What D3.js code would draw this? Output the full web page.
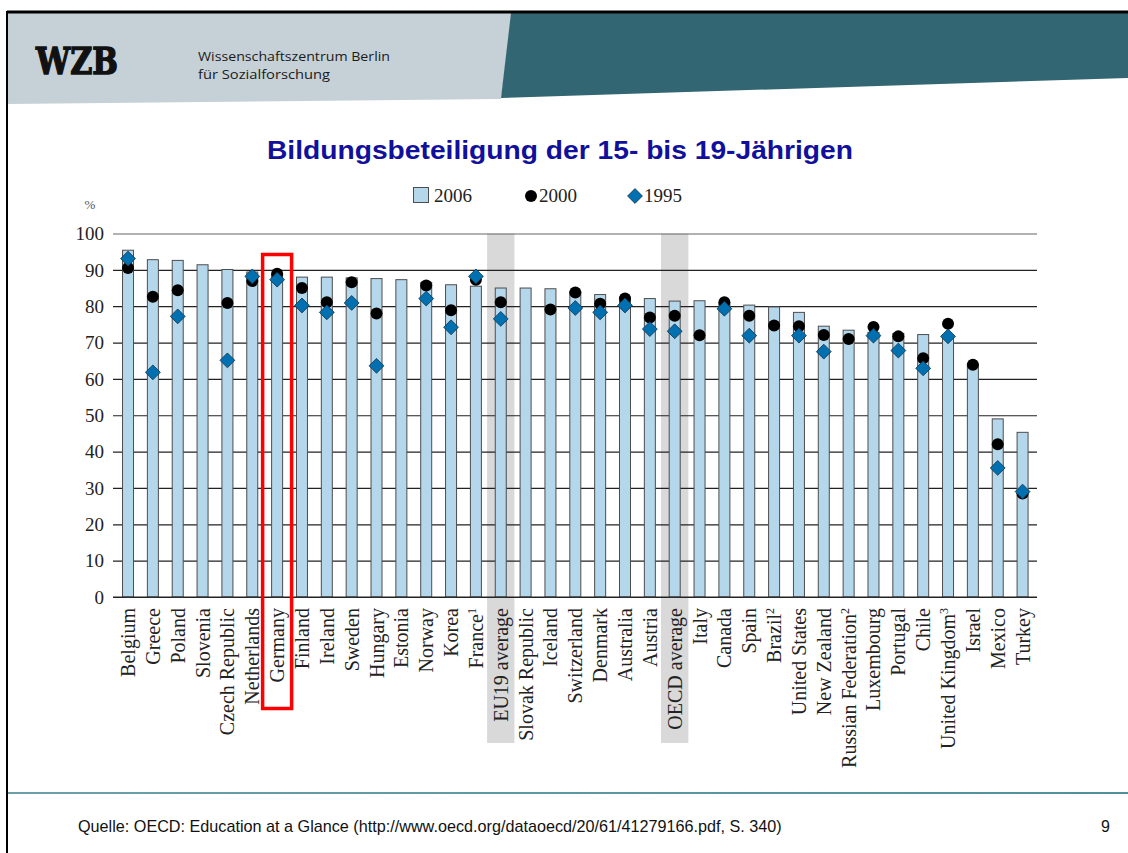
<!DOCTYPE html>
<html>
<head>
<meta charset="utf-8">
<script src="https://cdn.jsdelivr.net/npm/d3@7"></script>
<style>
  html, body { margin: 0; padding: 0; background: #fff; }
  svg { display: block; }
</style>
</head>
<body>
<div id="chart"></div>
<script>
// Bildungsbeteiligung der 15- bis 19-Jährigen (OECD EaG 2008, Tab. C2.1)

const COUNTRIES = [
  "Belgium", "Greece", "Poland", "Slovenia", "Czech Republic", "Netherlands",
  "Germany", "Finland", "Ireland", "Sweden", "Hungary", "Estonia", "Norway",
  "Korea", "France", "EU19 average", "Slovak Republic", "Iceland", "Switzerland",
  "Denmark", "Australia", "Austria", "OECD average", "Italy", "Canada", "Spain",
  "Brazil", "United States", "New Zealand", "Russian Federation", "Luxembourg",
  "Portugal", "Chile", "United Kingdom", "Israel", "Mexico", "Turkey"
];
// footnote marks shown as superscripts
const FOOTNOTES = { "France": "1", "Brazil": "2", "Russian Federation": "2", "United Kingdom": "3" };
const SHADED = ["EU19 average", "OECD average"];
const HIGHLIGHT = "Germany";

const V2006 = [95.4, 92.8, 92.6, 91.4, 90.1, 89.4, 88.8, 88.0, 88.0, 87.8, 87.6, 87.3, 86.5,
               85.9, 85.5, 85.0, 85.0, 84.8, 84.0, 83.2, 82.5, 82.1, 81.4, 81.5, 80.8, 80.3,
               79.8, 78.3, 74.5, 73.4, 72.8, 72.5, 72.2, 71.5, 64.0, 49.0, 45.3];
const V2000 = [90.5, 82.6, 84.4, null, 80.9, 86.9, 88.9, 85.0, 81.1, 86.6, 78.0, null, 85.7,
               78.9, 87.3, 81.1, null, 79.1, 83.8, 80.7, 82.1, 76.9, 77.4, 72.0, 81.1, 77.4,
               74.7, 74.5, 72.1, 71.0, 74.3, 71.7, 65.7, 75.2, 63.9, 42.0, 28.5];
const V1995 = [93.1, 61.8, 77.2, null, 65.1, 88.2, 87.3, 80.2, 78.3, 80.9, 63.6, null, 82.1,
               74.2, 88.2, 76.5, null, null, 79.5, 78.3, 80.2, 73.7, 73.1, null, 79.3, 71.9,
               null, 71.9, 67.5, null, 71.9, 67.8, 62.9, 71.7, null, 35.5, 29.0];
const Y_TICKS = [0, 10, 20, 30, 40, 50, 60, 70, 80, 90, 100];

const TITLE = "Bildungsbeteiligung der 15- bis 19-Jährigen";
const SOURCE = "Quelle: OECD: Education at a Glance (http://www.oecd.org/dataoecd/20/61/41279166.pdf, S. 340)";

const W = 1128, H = 853;
const SERIF = "'Liberation Serif', 'DejaVu Serif', serif";
const SANS = "'Liberation Sans', Arial, sans-serif";

const svg = d3.select("#chart").append("svg").attr("width", W).attr("height", H);

/* ── Slide header ── */
svg.append("polygon").attr("points", "8,13 513,13 501,99 8,104").attr("fill", "#c6d1d7");
svg.append("polygon").attr("points", "511,13 1128,13 1128,78 501,98").attr("fill", "#336673");
svg.append("line").attr("x1", 7).attr("x2", W).attr("y1", 12).attr("y2", 12)
  .attr("stroke", "#000").attr("stroke-width", 3);
svg.append("line").attr("x1", 7).attr("x2", 7).attr("y1", 11).attr("y2", H)
  .attr("stroke", "#000").attr("stroke-width", 2);

svg.append("text").attr("x", 36).attr("y", 74)
  .attr("font-family", "'DejaVu Serif', serif").attr("font-weight", "bold")
  .attr("font-size", 37).attr("textLength", 82).attr("lengthAdjust", "spacingAndGlyphs")
  .attr("stroke", "#111").attr("stroke-width", 1.5)
  .attr("fill", "#111").text("WZB");
svg.append("text").attr("x", 198).attr("y", 61)
  .attr("font-family", "'Open Sans', sans-serif").attr("font-size", 13.5)
  .attr("textLength", 192).attr("lengthAdjust", "spacingAndGlyphs")
  .attr("fill", "#1a1a1a").text("Wissenschaftszentrum Berlin");
svg.append("text").attr("x", 198).attr("y", 79)
  .attr("font-family", "'Open Sans', sans-serif").attr("font-size", 13.5)
  .attr("textLength", 132).attr("lengthAdjust", "spacingAndGlyphs")
  .attr("fill", "#1a1a1a").text("für Sozialforschung");

/* ── Title ── */
svg.append("text").attr("x", 267).attr("y", 159)
  .attr("font-family", SANS).attr("font-weight", "bold").attr("font-size", 26)
  .attr("textLength", 586).attr("lengthAdjust", "spacingAndGlyphs")
  .attr("fill", "#10109c").text(TITLE);

/* ── Scales ── */
const x = d3.scalePoint().domain(COUNTRIES).range([115.6, 1035]).padding(0.5);
const step = x.step();
const y = d3.scaleLinear().domain([0, 100]).range([597, 233.5]);
const BAR_W = 11;
const X0 = 113, X1 = 1037;

const g = svg.append("g");

/* ── Shaded averages ── */
g.selectAll("rect.shade").data(SHADED).join("rect").attr("class", "shade")
  .attr("x", d => x(d) - step * 0.55).attr("width", step * 1.1)
  .attr("y", y(100)).attr("height", 743 - y(100))
  .attr("fill", "#d9d9d9");

/* ── Grid ── */
g.append("g").attr("transform", `translate(${X0},0)`)
  .call(d3.axisLeft(y).tickValues(Y_TICKS).tickSize(-(X1 - X0)).tickFormat(""))
  .call(ax => {
    ax.select(".domain").remove();
    ax.selectAll("line").attr("stroke", d => d === 100 ? "#666" : "#222").attr("stroke-width", 1.2);
  });

/* ── Y tick labels ── */
g.selectAll("text.ytick").data(Y_TICKS).join("text").attr("class", "ytick")
  .attr("x", 104).attr("y", d => y(d)).attr("dy", "0.35em").attr("text-anchor", "end")
  .attr("font-family", SERIF).attr("font-size", 19).attr("fill", "#222")
  .text(d => d);
svg.append("text").attr("x", 90).attr("y", 209).attr("text-anchor", "middle")
  .attr("font-family", SERIF).attr("font-size", 13).attr("fill", "#555").text("%");

/* ── Bars 2006 ── */
g.selectAll("rect.bar").data(COUNTRIES).join("rect").attr("class", "bar")
  .attr("x", d => x(d) - BAR_W / 2).attr("width", BAR_W)
  .attr("y", (d, i) => y(V2006[i])).attr("height", (d, i) => y(0) - y(V2006[i]))
  .attr("fill", "#b4d7eb").attr("stroke", "#4d4d4d").attr("stroke-width", 1);

/* ── Baseline ── */
g.append("line").attr("x1", X0).attr("x2", X1).attr("y1", y(0)).attr("y2", y(0))
  .attr("stroke", "#222").attr("stroke-width", 1.2);

/* ── Markers 2000 (circles) ── */
const pts2000 = COUNTRIES.map((c, i) => ({ c, v: V2000[i] })).filter(d => d.v != null);
g.selectAll("circle.m2000").data(pts2000).join("circle").attr("class", "m2000")
  .attr("cx", d => x(d.c)).attr("cy", d => y(d.v)).attr("r", 6)
  .attr("fill", "#000");

/* ── Markers 1995 (diamonds) ── */
const diamond = d3.symbol().type(d3.symbolSquare).size(110);
const pts1995 = COUNTRIES.map((c, i) => ({ c, v: V1995[i] })).filter(d => d.v != null);
g.selectAll("path.m1995").data(pts1995).join("path").attr("class", "m1995")
  .attr("d", diamond)
  .attr("transform", d => `translate(${x(d.c)},${y(d.v)}) rotate(45)`)
  .attr("fill", "#0070b0").attr("stroke", "#17384f").attr("stroke-width", 0.8);

/* ── X labels ── */
const labels = g.selectAll("text.xlab").data(COUNTRIES).join("text").attr("class", "xlab")
  .attr("transform", d => `translate(${x(d)},608) rotate(-90)`)
  .attr("dy", "0.35em").attr("text-anchor", "end")
  .attr("font-family", SERIF).attr("font-size", 20).attr("fill", "#222");
labels.append("tspan").text(d => d);
labels.filter(d => FOOTNOTES[d]).append("tspan")
  .attr("font-size", 12).attr("baseline-shift", "super").text(d => FOOTNOTES[d]);

/* ── Highlight box (Germany) ── */
svg.append("rect")
  .attr("x", x(HIGHLIGHT) - 14.5).attr("width", 29)
  .attr("y", 254.5).attr("height", 454)
  .attr("fill", "none").attr("stroke", "#ff0000").attr("stroke-width", 3.5);

/* ── Legend ── */
const lg = svg.append("g").attr("font-family", SERIF).attr("font-size", 19).attr("fill", "#222");
lg.append("rect").attr("x", 413.5).attr("y", 187.5).attr("width", 15).attr("height", 15)
  .attr("fill", "#b4d7eb").attr("stroke", "#4d4d4d");
lg.append("text").attr("x", 434).attr("y", 202).text("2006");
lg.append("circle").attr("cx", 531).attr("cy", 196).attr("r", 6).attr("fill", "#000");
lg.append("text").attr("x", 539).attr("y", 202).text("2000");
lg.append("path").attr("d", diamond).attr("transform", "translate(635,196) rotate(45)")
  .attr("fill", "#0070b0").attr("stroke", "#17384f").attr("stroke-width", 0.8);
lg.append("text").attr("x", 644).attr("y", 202).text("1995");

/* ── Footer ── */
const grad = svg.append("defs").append("linearGradient").attr("id", "foot")
  .attr("x1", "0%").attr("x2", "100%");
grad.append("stop").attr("offset", "0%").attr("stop-color", "#6aa0aa");
grad.append("stop").attr("offset", "100%").attr("stop-color", "#4f8f9c");
svg.append("rect").attr("x", 8).attr("y", 792).attr("width", W - 8).attr("height", 2)
  .attr("fill", "url(#foot)");
svg.append("text").attr("x", 78).attr("y", 832)
  .attr("font-family", SANS).attr("font-size", 16.2).attr("fill", "#111").text(SOURCE);
svg.append("text").attr("x", 1110).attr("y", 832).attr("text-anchor", "end")
  .attr("font-family", SANS).attr("font-size", 16).attr("fill", "#111").text("9");
</script>
</body>
</html>
